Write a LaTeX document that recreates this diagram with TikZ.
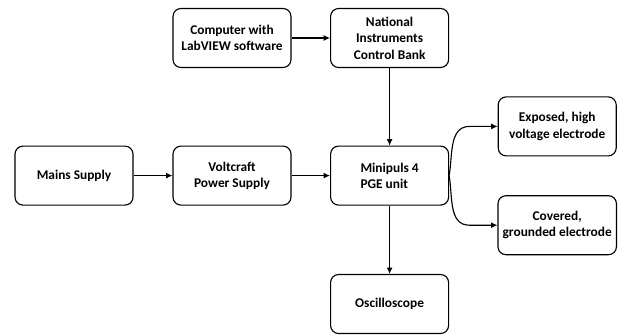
\documentclass[tikz,border=0pt]{standalone}
\usepackage{fontspec}
\setmainfont{Carlito}
\usetikzlibrary{arrows.meta, positioning}

\begin{document}
\begin{tikzpicture}[
    block/.style={draw, rounded corners=0.2cm, minimum width=2.95cm, minimum height=1.475cm,
                  font=\fontsize{9.5}{11.7}\selectfont\bfseries, align=center, line width=0.8pt},
    arr/.style={-{Latex[length=1.6mm, width=1.5mm]}, line width=0.8pt},
    >=Latex
  ]
  \useasboundingbox (0,0) rectangle (15.5,-8.375);

  \node[block] (computer) at (5.8, -0.95) {Computer with\\LabVIEW software};
  \node[block] (bank) at (9.74, -0.95) {National\\Instruments\\Control Bank};
  \node[block] (mains) at (1.85, -4.39) {Mains Supply};
  \node[block] (voltcraft) at (5.8, -4.39) {Voltcraft\\Power Supply};
  \node[block, align=left] (minipuls) at (9.74, -4.39) {Minipuls 4\\PGE unit};
  \node[block] (exposed) at (13.93, -3.16) {Exposed, high\\voltage electrode};
  \node[block] (covered) at (13.93, -5.63) {Covered,\\grounded electrode};
  \node[block] (scope) at (9.74, -7.6) {Oscilloscope};

  \draw[arr] (computer) -- (bank);
  \draw[arr] (mains) -- (voltcraft);
  \draw[arr] (voltcraft) -- (minipuls);
  \draw[arr] (bank) -- (minipuls);
  \draw[arr] (minipuls) -- (scope);
  \draw[arr] (minipuls.east) to[out=80, in=180] ([xshift=-0.7cm]exposed.west) -- (exposed.west);
  \draw[arr] (minipuls.east) to[out=-80, in=180] ([xshift=-0.7cm]covered.west) -- (covered.west);

\end{tikzpicture}
\end{document}
